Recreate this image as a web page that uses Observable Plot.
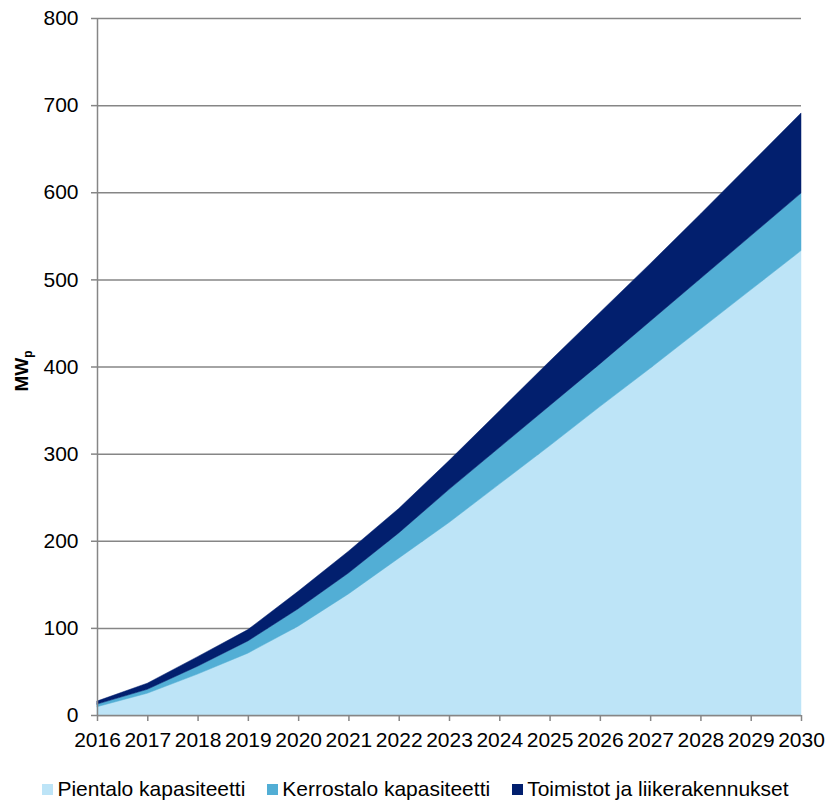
<!DOCTYPE html>
<html>
<head>
<meta charset="utf-8">
<script src="https://cdn.jsdelivr.net/npm/d3@7"></script>
<script src="https://cdn.jsdelivr.net/npm/@observablehq/plot@0.6"></script>
<style>
  body { margin: 0; background: #fff; font-family: "Liberation Sans", Arial, sans-serif; }
  #legend { display: flex; justify-content: center; gap: 22px; font-size: 21px; color: #000; margin-top: 9px; line-height: 24px; }
  #legend .item { display: flex; align-items: center; }
  #legend .sw { display: inline-block; width: 11px; height: 11px; margin-right: 4px; }
</style>
</head>
<body>
<div id="chart"></div>
<div id="legend"></div>
<script>
// Cumulative installed solar capacity (MWp) by building type
const years = [2016, 2017, 2018, 2019, 2020, 2021, 2022, 2023, 2024, 2025, 2026, 2027, 2028, 2029, 2030];
const pientalo   = [9.5, 25, 47, 71, 102, 139, 180, 221, 265, 309, 354, 398, 443, 488, 533];
const kerrostalo = [3, 4.5, 9, 14, 20, 24, 29, 38, 42, 46, 49, 54, 58, 62, 66];
const toimistot  = [3.5, 7, 11, 13, 20, 25, 28, 33, 42, 51, 59, 66, 74, 83, 92];

const seriesNames = ["Pientalo kapasiteetti", "Kerrostalo kapasiteetti", "Toimistot ja liikerakennukset"];
const seriesColors = ["#bde4f7", "#52aed5", "#021f6e"];
const yTicks = [0, 100, 200, 300, 400, 500, 600, 700, 800];

const seriesValues = [pientalo, kerrostalo, toimistot];
const rows = [];
seriesNames.forEach((name, i) => {
  years.forEach((year, j) => rows.push({ year, series: name, value: seriesValues[i][j] }));
});

const axisGray = "#868686";

const chart = Plot.plot({
  width: 831,
  height: 768,
  marginLeft: 97,
  marginRight: 30,
  marginTop: 18,
  marginBottom: 53,
  style: { fontFamily: "'Liberation Sans', Arial, sans-serif", fontSize: "21px", color: "#000", background: "#fff" },
  x: { domain: [2016, 2030] },
  y: { domain: [0, 800] },
  color: { domain: seriesNames, range: seriesColors },
  marks: [
    Plot.gridY(yTicks, { stroke: axisGray, strokeOpacity: 1, strokeWidth: 1.5 }),
    Plot.areaY(rows, {
      x: "year", y: "value", fill: "series", stroke: "series", strokeWidth: 0.5,
      order: seriesNames
    }),
    Plot.axisY(yTicks, {
      tickSize: 6, tickPadding: 13, stroke: axisGray, strokeWidth: 1.5,
      tickFormat: d => String(d), fontSize: 21, label: null
    }),
    Plot.axisX(years, {
      tickSize: 6, tickPadding: 11, stroke: axisGray, strokeWidth: 1.5,
      tickFormat: d => String(d), fontSize: 21, label: null
    }),
    Plot.ruleX([2016], { stroke: axisGray, strokeWidth: 1.5 }),
    Plot.ruleY([0], { stroke: axisGray, strokeWidth: 1.5 })
  ]
});

// y-axis title with subscript p
d3.select(chart).append("text")
  .attr("transform", "translate(28,371) rotate(-90)")
  .attr("text-anchor", "middle")
  .attr("font-weight", "bold")
  .attr("font-size", 19)
  .attr("fill", "#000")
  .call(t => {
    t.append("tspan").text("MW");
    t.append("tspan").attr("font-size", 12).attr("dy", 4).text("p");
  });

document.getElementById("chart").appendChild(chart);

const legend = d3.select("#legend");
seriesNames.forEach((name, i) => {
  const item = legend.append("span").attr("class", "item");
  item.append("span").attr("class", "sw").style("background", seriesColors[i]);
  item.append("span").text(name);
});
</script>
</body>
</html>
